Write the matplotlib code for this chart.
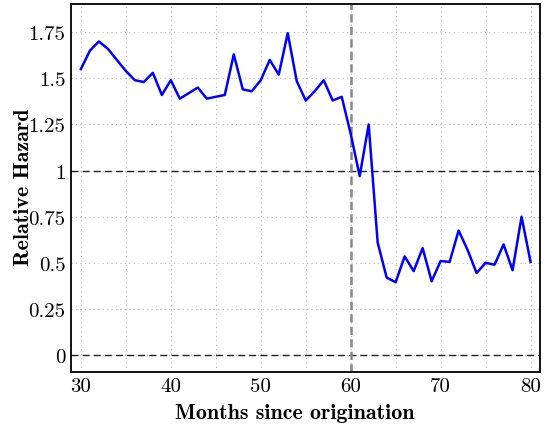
import matplotlib
matplotlib.use("Agg")
import matplotlib.pyplot as plt
import numpy as np

# months since origination and relative hazard
months = list(range(30, 81))
hazard = [1.55, 1.65, 1.70, 1.66, 1.60, 1.54, 1.49, 1.48, 1.53, 1.41,
          1.49, 1.39, 1.42, 1.45, 1.39, 1.40, 1.41, 1.63, 1.44, 1.43,
          1.49, 1.60, 1.52, 1.745, 1.485, 1.38, 1.43, 1.49, 1.38, 1.40,
          1.20, 0.97, 1.25, 0.61, 0.42, 0.395, 0.535, 0.455, 0.58, 0.40,
          0.51, 0.505, 0.675, 0.57, 0.445, 0.50, 0.49, 0.60, 0.46, 0.75,
          0.505]

xticks = [30, 40, 50, 60, 70, 80]
yticks = [0, 0.25, 0.5, 0.75, 1, 1.25, 1.5, 1.75]
ytick_labels = ["0", "0.25", "0.5", "0.75", "1", "1.25", "1.5", "1.75"]

plt.rcParams['font.family'] = ['cmr10', 'DejaVu Serif']

fig = plt.figure(figsize=(5.46, 4.27), dpi=100)
ax = fig.add_axes([71/546, 1 - 372.7/427, (540-71)/546, (372.7-5)/427])

# dotted grid every 5 months and every 0.25
for gx in range(30, 81, 5):
    ax.axvline(gx, color='#b8b8b8', linestyle=(0, (1, 3)), linewidth=0.8, zorder=0)
for gy in yticks:
    ax.axhline(gy, color='#b8b8b8', linestyle=(0, (1, 3)), linewidth=0.8, zorder=0)

ax.axhline(0, color='#222222', linestyle=(0, (5, 3)), linewidth=1.0, zorder=1)
ax.axhline(1, color='#222222', linestyle=(0, (5, 3)), linewidth=1.0, zorder=1)
ax.axvline(60, color='#888888', linestyle=(0, (3.3, 1.7)), linewidth=1.8, zorder=1)

ax.plot(months, hazard, color='#0000ff', linewidth=1.8, zorder=3)

ax.set_xlim(28.9, 81.05)
ax.set_ylim(-0.09, 1.903)
ax.set_xticks(xticks)
ax.set_xticklabels([str(t) for t in xticks])
ax.set_yticks(yticks)
ax.set_yticklabels(ytick_labels)
ax.tick_params(length=0, labelsize=15, pad=4)

for s in ax.spines.values():
    s.set_linewidth(1.3)

ax.set_xlabel("Months since origination", fontsize=15.8, fontfamily='cmb10')
ax.set_ylabel("Relative Hazard", fontsize=15.8, fontfamily='cmb10')
ax.xaxis.set_label_coords(0.478, -0.086)
ax.yaxis.set_label_coords(-0.081, 0.505)

fig.savefig("out.png", dpi=100)
